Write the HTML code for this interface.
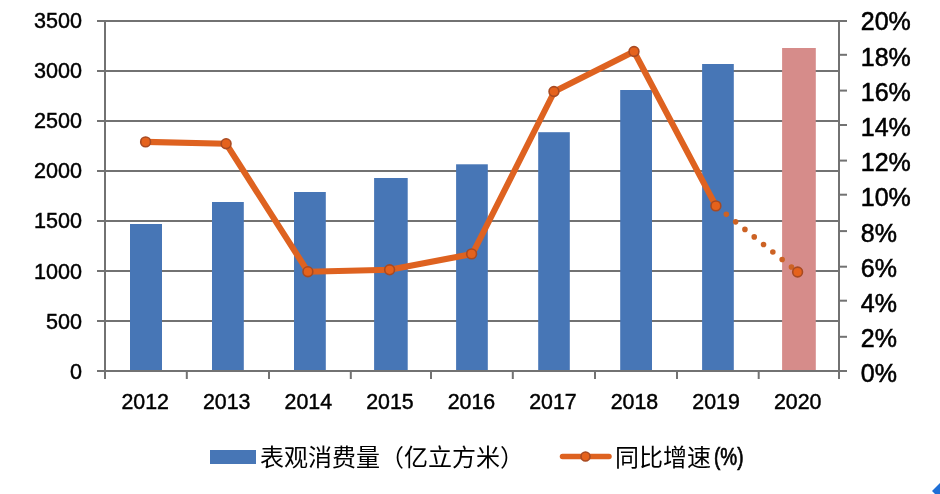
<!DOCTYPE html>
<html lang="zh-CN"><head><meta charset="utf-8"><style>
html,body{margin:0;padding:0;background:#fff;width:940px;height:494px;overflow:hidden}
svg{display:block;will-change:transform}
.n{font-family:"Liberation Sans",sans-serif;font-size:22.5px;fill:#000;stroke:#000;stroke-width:0.45px}
.r{font-family:"Liberation Sans",sans-serif;font-size:25px;fill:#000;stroke:#000;stroke-width:0.55px}
.cj{font-family:"Liberation Serif",serif;font-size:24px;fill:#000}
</style></head><body>
<svg width="940" height="494" viewBox="0 0 940 494">
<rect width="940" height="494" fill="#fff"/>
<rect x="97" y="70" width="742" height="2" fill="#727272"/><rect x="97" y="120" width="742" height="2" fill="#727272"/><rect x="97" y="170" width="742" height="2" fill="#727272"/><rect x="97" y="220" width="742" height="2" fill="#727272"/><rect x="97" y="270" width="742" height="2" fill="#727272"/><rect x="97" y="320" width="742" height="2" fill="#727272"/>
<rect x="130" y="224" width="32.0" height="147.0" fill="#4776b6"/><rect x="212" y="202" width="31.8" height="169.0" fill="#4776b6"/><rect x="294" y="192" width="31.8" height="179.0" fill="#4776b6"/><rect x="374.1" y="178" width="33.6" height="193.0" fill="#4776b6"/><rect x="456.1" y="164.3" width="31.7" height="206.7" fill="#4776b6"/><rect x="538.2" y="132.2" width="31.6" height="238.8" fill="#4776b6"/><rect x="620.2" y="90" width="31.8" height="281.0" fill="#4776b6"/><rect x="702.1" y="64" width="31.7" height="307.0" fill="#4776b6"/><rect x="782.1" y="48" width="33.7" height="323.0" fill="#d68c8a"/>
<rect x="97" y="20" width="750" height="2" fill="#727272"/>
<rect x="104" y="20" width="2" height="359" fill="#727272"/>
<rect x="838" y="20" width="2" height="359" fill="#727272"/>
<rect x="97" y="370" width="750" height="2" fill="#727272"/>
<rect x="839" y="370.0" width="8" height="2" fill="#727272"/><rect x="839" y="335.8" width="8" height="2" fill="#727272"/><rect x="839" y="299.7" width="8" height="2" fill="#727272"/><rect x="839" y="265.7" width="8" height="2" fill="#727272"/><rect x="839" y="230.1" width="8" height="2" fill="#727272"/><rect x="839" y="193.7" width="8" height="2" fill="#727272"/><rect x="839" y="159.6" width="8" height="2" fill="#727272"/><rect x="839" y="124.0" width="8" height="2" fill="#727272"/><rect x="839" y="89.6" width="8" height="2" fill="#727272"/><rect x="839" y="53.8" width="8" height="2" fill="#727272"/><rect x="839" y="20.0" width="8" height="2" fill="#727272"/>
<rect x="104.0" y="371" width="2" height="8" fill="#727272"/><rect x="185.8" y="371" width="2" height="8" fill="#727272"/><rect x="268.0" y="371" width="2" height="8" fill="#727272"/><rect x="349.8" y="371" width="2" height="8" fill="#727272"/><rect x="430.0" y="371" width="2" height="8" fill="#727272"/><rect x="511.8" y="371" width="2" height="8" fill="#727272"/><rect x="594.0" y="371" width="2" height="8" fill="#727272"/><rect x="676.0" y="371" width="2" height="8" fill="#727272"/><rect x="757.7" y="371" width="2" height="8" fill="#727272"/><rect x="838.0" y="371" width="2" height="8" fill="#727272"/>
<polyline points="145.6,141.9 226.1,143.7 307.9,271.7 389.6,269.8 472.4,253.9 554.4,91.5 634,51.5 715.9,205.9" fill="none" stroke="#de6220" stroke-width="6.1" stroke-linejoin="round"/>
<line x1="715.9" y1="205.9" x2="797.6" y2="272" stroke="#cc6224" stroke-width="5.6" stroke-linecap="round" stroke-dasharray="0 11.97" stroke-dashoffset="-13.4"/>
<circle cx="145.6" cy="141.9" r="4.9" fill="#e5621c" stroke="#a84a22" stroke-width="1.6"/><circle cx="226.1" cy="143.7" r="4.9" fill="#e5621c" stroke="#a84a22" stroke-width="1.6"/><circle cx="307.9" cy="271.7" r="4.9" fill="#e5621c" stroke="#a84a22" stroke-width="1.6"/><circle cx="389.6" cy="269.8" r="4.9" fill="#e5621c" stroke="#a84a22" stroke-width="1.6"/><circle cx="471.6" cy="253.9" r="4.9" fill="#e5621c" stroke="#a84a22" stroke-width="1.6"/><circle cx="553.95" cy="91.5" r="4.9" fill="#e5621c" stroke="#a84a22" stroke-width="1.6"/><circle cx="634" cy="51.5" r="4.9" fill="#e5621c" stroke="#a84a22" stroke-width="1.6"/><circle cx="715.9" cy="205.9" r="4.9" fill="#e5621c" stroke="#a84a22" stroke-width="1.6"/><circle cx="797.6" cy="272" r="4.9" fill="#e5621c" stroke="#a84a22" stroke-width="1.6"/>
<g class="n"><text x="82" y="378.7" text-anchor="end" textLength="12" lengthAdjust="spacingAndGlyphs">0</text><text x="82" y="328.6" text-anchor="end" textLength="36" lengthAdjust="spacingAndGlyphs">500</text><text x="82" y="278.5" text-anchor="end" textLength="48" lengthAdjust="spacingAndGlyphs">1000</text><text x="82" y="228.4" text-anchor="end" textLength="48" lengthAdjust="spacingAndGlyphs">1500</text><text x="82" y="178.3" text-anchor="end" textLength="48" lengthAdjust="spacingAndGlyphs">2000</text><text x="82" y="128.2" text-anchor="end" textLength="48" lengthAdjust="spacingAndGlyphs">2500</text><text x="82" y="78.1" text-anchor="end" textLength="48" lengthAdjust="spacingAndGlyphs">3000</text><text x="82" y="28.0" text-anchor="end" textLength="48" lengthAdjust="spacingAndGlyphs">3500</text><text x="145.2" y="409" text-anchor="middle" textLength="47.5" lengthAdjust="spacingAndGlyphs">2012</text><text x="226.7" y="409" text-anchor="middle" textLength="47.5" lengthAdjust="spacingAndGlyphs">2013</text><text x="308.3" y="409" text-anchor="middle" textLength="47.5" lengthAdjust="spacingAndGlyphs">2014</text><text x="389.9" y="409" text-anchor="middle" textLength="47.5" lengthAdjust="spacingAndGlyphs">2015</text><text x="471.4" y="409" text-anchor="middle" textLength="47.5" lengthAdjust="spacingAndGlyphs">2016</text><text x="553.0" y="409" text-anchor="middle" textLength="47.5" lengthAdjust="spacingAndGlyphs">2017</text><text x="634.5" y="409" text-anchor="middle" textLength="47.5" lengthAdjust="spacingAndGlyphs">2018</text><text x="716.1" y="409" text-anchor="middle" textLength="47.5" lengthAdjust="spacingAndGlyphs">2019</text><text x="797.7" y="409" text-anchor="middle" textLength="47.5" lengthAdjust="spacingAndGlyphs">2020</text></g>
<g class="r"><text x="860.8" y="382.4">0%</text><text x="860.8" y="347.2">2%</text><text x="860.8" y="312.0">4%</text><text x="860.8" y="276.8">6%</text><text x="860.8" y="241.6">8%</text><text x="860.8" y="206.4">10%</text><text x="860.8" y="171.2">12%</text><text x="860.8" y="136.0">14%</text><text x="860.8" y="100.8">16%</text><text x="860.8" y="65.6">18%</text><text x="860.8" y="30.4">20%</text></g>
<rect x="210" y="450" width="46" height="14" fill="#4776b6"/>
<text class="cj" x="260" y="466">表观消费量（亿立方米）</text>
<line x1="562.5" y1="456.5" x2="609" y2="456.5" stroke="#de6220" stroke-width="5.5" stroke-linecap="round"/>
<circle cx="585.5" cy="456.5" r="4.5" fill="#e5621c" stroke="#a84a22" stroke-width="1.6"/>
<text class="cj" x="615" y="466">同比增速</text>
<text class="n" x="714" y="465" style="font-size:23px;stroke-width:0.7px" textLength="29.5" lengthAdjust="spacingAndGlyphs">(%)</text>
<polygon points="932,491 940,483 940,494 935,494" fill="#1f6fd6"/>
</svg>
</body></html>
